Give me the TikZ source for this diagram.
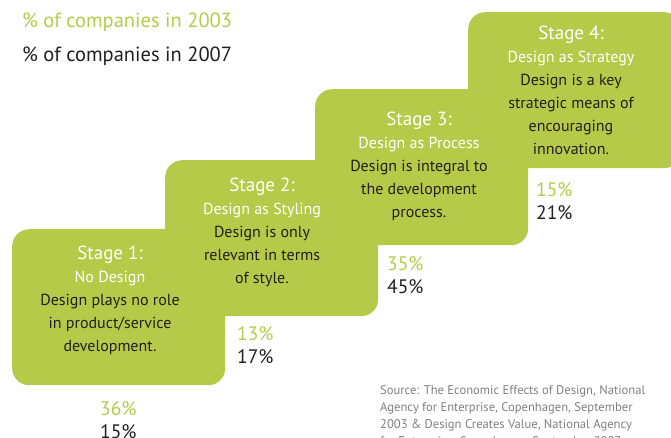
\documentclass[tikz,border=0pt]{standalone}
\usepackage{fontspec}
\setmainfont{PT Sans}
\usetikzlibrary{positioning}
\definecolor{stagegreen}{RGB}{182,202,74}
\definecolor{inkgray}{RGB}{35,31,32}
\definecolor{notegray}{RGB}{128,128,128}
\begin{document}
\begin{tikzpicture}[x=1pt,y=-1pt,
	stagebox/.style={fill=stagegreen,rounded corners=17pt,minimum width=213pt,minimum height=156pt,anchor=north west,inner sep=0pt},
	stagetext/.style={anchor=north,align=center,inner sep=0pt,text=inkgray,font=\fontsize{16}{23}\selectfont},
	pct/.style={anchor=north west,align=left,inner sep=0pt,text=inkgray,font=\fontsize{19.5}{23}\selectfont}]
	\useasboundingbox (0,0) rectangle (671,437);
	% the four steps
	\foreach[count=\i] \x/\y in {12/229,165/160,315/89,468/12}
		\node[stagebox] (box\i) at (\x,\y) {};
	% key
	\node[anchor=north west,inner sep=0pt,text=stagegreen,font=\fontsize{20.5}{23}\selectfont] (key1) at (22,13) {\% of companies in 2003};
	\node[anchor=north west,inner sep=0pt,text=inkgray,font=\fontsize{20.5}{23}\selectfont] (key2) at (22,47) {\% of companies in 2007};
	% texts in the steps
	\node[stagetext] (txt1) at (110,246) {{\color{white}\fontsize{19}{23}\selectfont Stage 1:}\\{\color{white}No Design}\\Design plays no role\\in product/service\\development.};
	\node[stagetext] (txt2) at (262,178) {{\color{white}\fontsize{19}{23}\selectfont Stage 2:}\\{\color{white}Design as Styling}\\Design is only\\relevant in terms\\of style.};
	\node[stagetext] (txt3) at (419,112) {{\color{white}\fontsize{19}{23}\selectfont Stage 3:}\\{\color{white}Design as Process}\\Design is integral to\\the development\\process.};
	\node[stagetext] (txt4) at (571,26) {{\color{white}\fontsize{19}{23}\selectfont Stage 4:}\\{\color{white}Design as Strategy}\\Design is a key\\strategic means of\\encouraging\\innovation.};
	% shares
	\node[pct] (pct1) at (100,401) {{\color{stagegreen}36\%}\\15\%};
	\node[pct] (pct2) at (237,326) {{\color{stagegreen}13\%}\\17\%};
	\node[pct] (pct3) at (387,256) {{\color{stagegreen}35\%}\\45\%};
	\node[pct] (pct4) at (536,182) {{\color{stagegreen}15\%}\\21\%};
	% source
	\node[anchor=north west,align=left,inner sep=0pt,text=notegray,font=\fontsize{12.6}{17}\selectfont] (src) at (380,385) {Source: The Economic Effects of Design, National\\Agency for Enterprise, Copenhagen, September\\2003 \& Design Creates Value, National Agency\\for Enterprise, Copenhagen, September 2007};
\end{tikzpicture}
\end{document}
